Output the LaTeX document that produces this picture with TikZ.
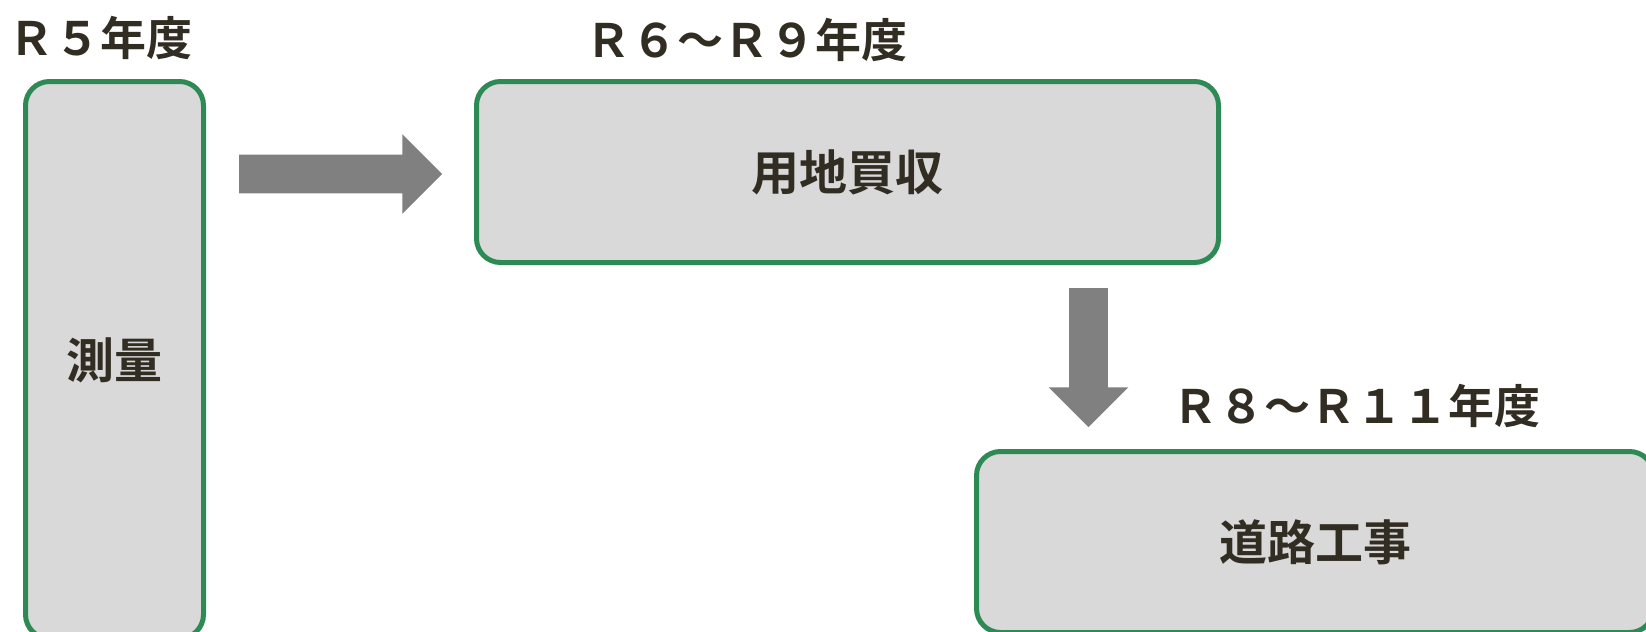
\documentclass[tikz,border=0pt]{standalone}
\usepackage{fontspec}
\newfontfamily\jpfont{Noto Sans CJK JP}[BoldFont=* Bold]
\usepackage{tikz}
\usetikzlibrary{shapes,arrows}
\definecolor{boxgreen}{RGB}{46,138,84}
\definecolor{boxgray}{RGB}{217,217,217}
\definecolor{arrowgray}{RGB}{128,128,128}
\definecolor{inkdark}{RGB}{50,45,35}
\tikzset{
  phase/.style={draw=boxgreen,line width=2.5bp,fill=boxgray,rounded corners=12bp,text=inkdark,font=\jpfont\bfseries\fontsize{24bp}{28bp}\selectfont},
  year/.style={text=inkdark,font=\jpfont\bfseries\fontsize{23bp}{27bp}\selectfont},
  blockarrow/.style={single arrow,fill=arrowgray,draw=none,inner xsep=0pt,inner ysep=9.5bp,single arrow head extend=10.25bp,single arrow tip angle=90,minimum height=#1}
}

\begin{document}
\begin{tikzpicture}
\useasboundingbox (0bp,0bp) rectangle (823bp,-316bp);

\node (Y5) at (50bp,-19bp)[year] {Ｒ５年度};
\node (Y69) at (373bp,-20bp)[year] {Ｒ６～Ｒ９年度};
\node (Y811) at (678bp,-203bp)[year] {Ｒ８～Ｒ１１年度};
\node (Survey) at (57.25bp,-180bp)[phase,minimum width=89bp,minimum height=278.5bp] {測量};
\node (Land) at (423.75bp,-86bp)[phase,minimum width=371bp,minimum height=90.5bp] {用地買収};
\node (Road) at (657.5bp,-271bp)[phase,minimum width=338.5bp,minimum height=90.5bp] {道路工事};
\node (A1) at (165.5bp,-87bp)[blockarrow=101.5bp] {};
\node (A2) at (544.25bp,-174bp)[blockarrow=69.5bp,rotate=-90] {};
\end{tikzpicture}
\end{document}
